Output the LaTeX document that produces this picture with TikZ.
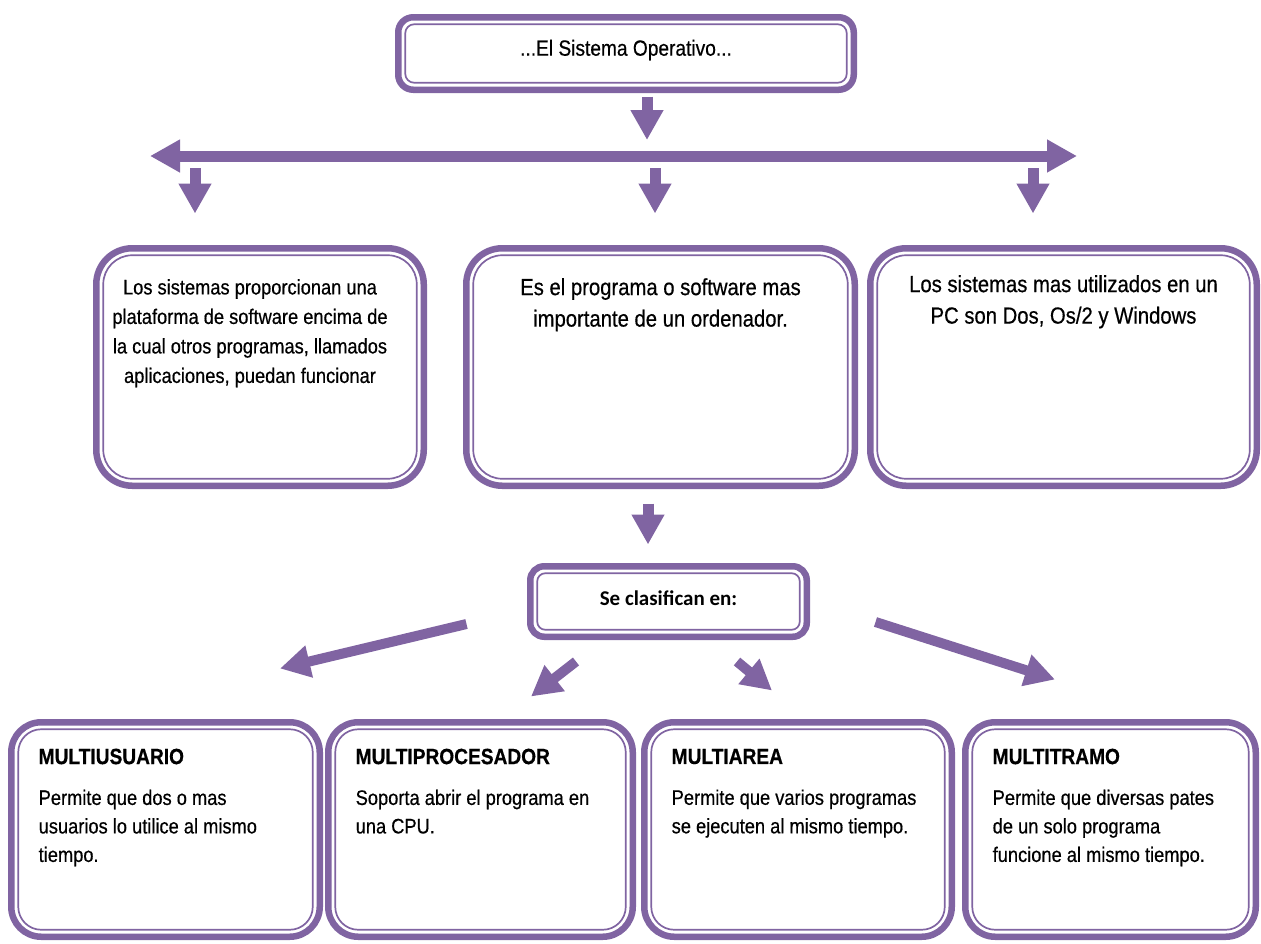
\documentclass[tikz,border=0pt]{standalone}
\usepackage{fontspec}
\setmainfont{Liberation Sans}[FakeStretch=0.87, FakeBold=0.5]
\newfontfamily\calibri{Carlito}
\usetikzlibrary{arrows.meta,positioning}

\definecolor{lila}{RGB}{128,100,162}

\tikzset{
  caja/.style={draw=lila, line width=6.5pt, rounded corners=#1, fill=white, inner sep=0pt},
  borde/.style={draw=lila, line width=1.7pt, rounded corners=#1, inner sep=0pt},
  flecha/.style={draw=lila, line width=11pt, -{Triangle[width=31pt,length=30pt]}},
  texto/.style={font=\fontsize{23.3}{31.5}\selectfont, align=center, inner sep=0pt},
  titulo/.style={font=\fontsize{22}{26}\selectfont\bfseries, anchor=west, inner sep=0pt},
  cuerpo/.style={font=\fontsize{21}{28.5}\selectfont, align=left, inner sep=0pt},
}

\begin{document}
\begin{tikzpicture}[x=1pt, y=-1pt]
\useasboundingbox (0,0) rectangle (1261,943);

% cajas
\node[caja=15pt, minimum width=455.5pt, minimum height=72.5pt] (top) at (626,53.5) {};
\node[caja=36pt, minimum width=327.5pt, minimum height=237.5pt] (la) at (260,367) {};
\node[caja=36pt, minimum width=388.5pt, minimum height=237.5pt] (lb) at (660.5,367) {};
\node[caja=36pt, minimum width=386.5pt, minimum height=237.5pt] (lc) at (1063.5,367) {};
\node[caja=14pt, minimum width=276.5pt, minimum height=70.5pt] (sc) at (668.5,601.5) {};
\node[caja=30pt, minimum width=308.5pt, minimum height=214.5pt] (b1) at (165.5,829.5) {};
\node[caja=30pt, minimum width=304.5pt, minimum height=214.5pt] (b2) at (480.5,829.5) {};
\node[caja=30pt, minimum width=307.5pt, minimum height=214.5pt] (b3) at (798,829.5) {};
\node[caja=30pt, minimum width=290.5pt, minimum height=214.5pt] (b4) at (1110.5,829.5) {};

% lineas interiores
\node[borde=9pt, minimum width=441.5pt, minimum height=58.5pt] (itop) at (top.center) {};
\node[borde=29pt, minimum width=313.5pt, minimum height=223.5pt] (ila) at (la.center) {};
\node[borde=29pt, minimum width=374.5pt, minimum height=223.5pt] (ilb) at (lb.center) {};
\node[borde=29pt, minimum width=372.5pt, minimum height=223.5pt] (ilc) at (lc.center) {};
\node[borde=8pt, minimum width=262.5pt, minimum height=56.5pt] (isc) at (sc.center) {};
\node[borde=23pt, minimum width=294.5pt, minimum height=200.5pt] (ib1) at (b1.center) {};
\node[borde=23pt, minimum width=290.5pt, minimum height=200.5pt] (ib2) at (b2.center) {};
\node[borde=23pt, minimum width=293.5pt, minimum height=200.5pt] (ib3) at (b3.center) {};
\node[borde=23pt, minimum width=276.5pt, minimum height=200.5pt] (ib4) at (b4.center) {};

% textos
\node[font=\fontsize{22}{26}\selectfont, inner sep=0pt] (ttop) at ([shift={(0,-3.5)}]top.center) {...El Sistema Operativo...};
\node[texto, font=\fontsize{21}{29.5}\selectfont, below=34pt of la.north, xshift=-10pt] (tla) {Los sistemas proporcionan  una\\plataforma  de software encima de\\la cual otros programas,  llamados\\aplicaciones, puedan funcionar};
\node[texto, below=33pt of lb.north] (tlb) {Es el programa o software mas\\importante de un ordenador.};
\node[texto, below=30pt of lc.north] (tlc) {Los sistemas mas utilizados en un\\PC son Dos, Os/2 y Windows};
\node[font=\calibri\bfseries\fontsize{21}{24}\selectfont, inner sep=0pt] (tsc) at ([shift={(0,-3.5)}]sc.center) {Se clasifican en:};

\node[titulo] (h1) at ([shift={(30.5,37.5)}]b1.north west) {MULTIUSUARIO};
\node[titulo] (h2) at ([shift={(30.5,37.5)}]b2.north west) {MULTIPROCESADOR};
\node[titulo] (h3) at ([shift={(30.5,37.5)}]b3.north west) {MULTIAREA};
\node[titulo] (h4) at ([shift={(30.5,37.5)}]b4.north west) {MULTITRAMO};

\node[cuerpo, below=25pt of h1.south west, anchor=north west] (c1) {Permite que dos o mas\\usuarios lo utilice al mismo\\tiempo.};
\node[cuerpo, below=25pt of h2.south west, anchor=north west] (c2) {Soporta abrir  el programa en\\una CPU.};
\node[cuerpo, below=25pt of h3.south west, anchor=north west] (c3) {Permite que varios programas\\se ejecuten al mismo tiempo.};
\node[cuerpo, below=25pt of h4.south west, anchor=north west] (c4) {Permite que diversas pates\\de un solo programa\\funcione al mismo tiempo.};

% flechas
\coordinate (barL) at (150,156);
\coordinate (barR) at (1077,156);
\draw[flecha, {Triangle[width=31pt,length=30pt]}-{Triangle[width=31pt,length=30pt]}] (barL) -- (barR);
\draw[flecha, shorten <=3.5pt, shorten >=16pt] ([xshift=21pt]top.south) -- ([xshift=21pt]top.south |- barL);

\foreach \x/\n in {195/la, 655/lb, 1033/lc} {
  \coordinate (d\n) at (\x,156);
  \draw[flecha, shorten <=12pt, shorten >=31.5pt] (d\n) -- (d\n |- \n.north);
}

\draw[flecha, shorten <=14.5pt, shorten >=18.5pt] ([xshift=-12.5pt]lb.south) -- ([xshift=-12.5pt]lb.south |- sc.north);

\draw[flecha, line width=10pt] ([shift={(-60.5,22.5)}]sc.west) -- ([shift={(114.5,-50.5)}]b1.north);
\draw[flecha, line width=10pt] ([shift={(-92.5,21.5)}]sc.south) -- ([shift={(50.5,-22.5)}]b2.north);
\draw[flecha, line width=10pt] ([shift={(68.5,21.5)}]sc.south) -- ([shift={(-26,-28.5)}]b3.north);
\draw[flecha, line width=10pt] ([shift={(65.5,20.5)}]sc.east) -- ([shift={(-55.5,-39.5)}]b4.north);
\end{tikzpicture}
\end{document}
